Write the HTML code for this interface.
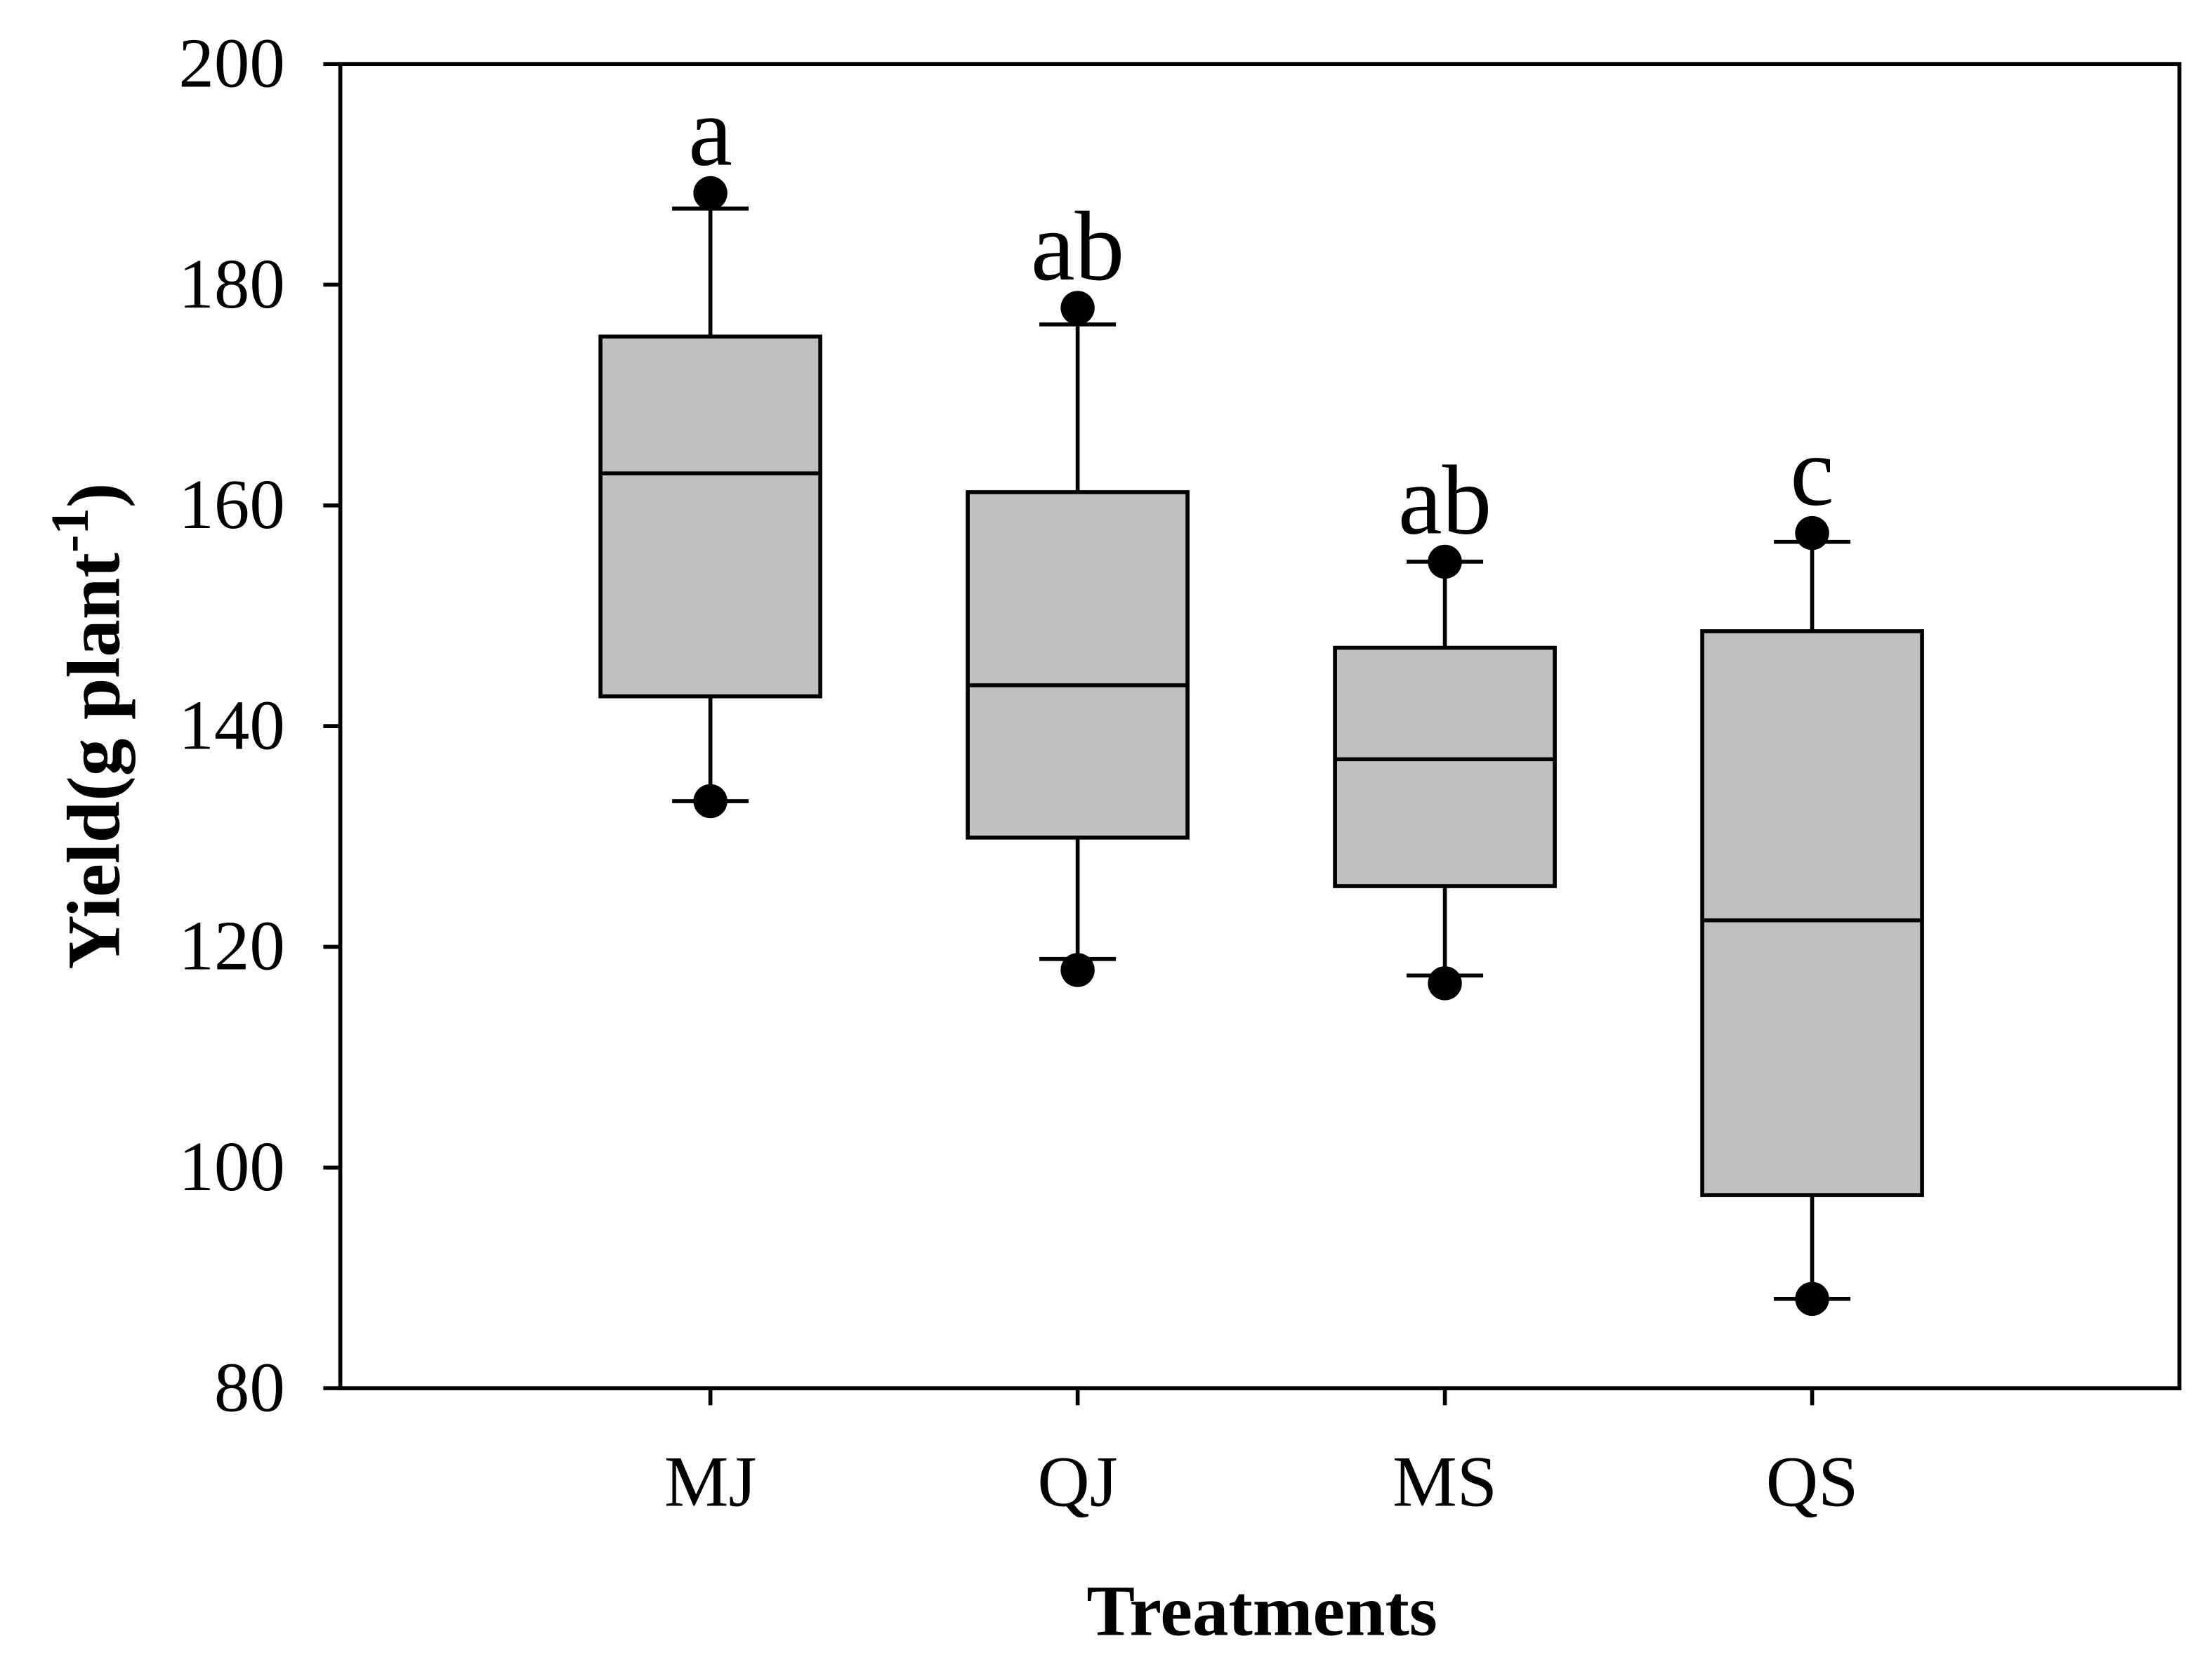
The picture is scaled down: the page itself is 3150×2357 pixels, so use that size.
<!DOCTYPE html>
<html><head><meta charset="utf-8"><style>
html,body{margin:0;padding:0;background:#fff;}
svg{display:block;}
text{font-family:"Liberation Serif","DejaVu Serif",serif;fill:#000;}
</style></head><body>
<svg id="chart" width="3150" height="2357" viewBox="0 0 1560 1167" xmlns="http://www.w3.org/2000/svg">
<rect x="0" y="0" width="1560" height="1167" fill="#fff"/>
<g id="plot"></g>
<text x="84" y="512" font-size="53" font-weight="bold" text-anchor="middle" transform="rotate(-90 84 512)">Yield(g plant<tspan dy="-22" font-size="38">-1</tspan><tspan dy="22">)</tspan></text>
<text x="890" y="1153" font-size="51" font-weight="bold" text-anchor="middle">Treatments</text>
</svg>
<script>
const categories = ["MJ","QJ","MS","QS"];
const q1 = [142.7,129.9,125.5,97.5];
const medians = [162.9,143.7,137.0,122.4];
const q3 = [175.3,161.2,147.1,148.6];
const whiskerLow = [133.2,118.9,117.4,88.1];
const whiskerHigh = [186.9,176.4,154.9,156.7];
const outlierLow = [133.2,117.9,116.7,88.1];
const outlierHigh = [188.3,177.9,154.9,157.5];
const letters = ["a","ab","ab","c"];
const yTicks = [80,100,120,140,160,180,200];

const L=240,R=1537,T=45,B=979,yMin=80,yMax=200;
function y(v){return B-(v-yMin)/(yMax-yMin)*(B-T);}
function x(i){return 501+i*259;}
const NS="http://www.w3.org/2000/svg";
const g=document.getElementById('plot');
function mk(tag,attrs,parent){const e=document.createElementNS(NS,tag);for(const k in attrs)e.setAttribute(k,attrs[k]);(parent||g).appendChild(e);return e;}
const sw=2.8;

yTicks.forEach(t=>{
  const tk=mk('line',{x1:228,x2:L,y1:y(t),y2:y(t),stroke:'#000','stroke-width':sw});
  
  
  const tx=mk('text',{x:201,y:y(t)+16,'font-size':50,'text-anchor':'end'});
  tx.textContent=t;
  
  
});

categories.forEach((c,i)=>{
  const cx=x(i),hw=77.5,cap=27;
  const grp=mk('g',{});
  
  
  mk('line',{x1:cx,x2:cx,y1:y(whiskerHigh[i]),y2:y(q3[i]),stroke:'#000','stroke-width':sw},grp);
  mk('line',{x1:cx,x2:cx,y1:y(q1[i]),y2:y(whiskerLow[i]),stroke:'#000','stroke-width':sw},grp);
  mk('line',{x1:cx-cap,x2:cx+cap,y1:y(whiskerHigh[i]),y2:y(whiskerHigh[i]),stroke:'#000','stroke-width':sw},grp);
  mk('line',{x1:cx-cap,x2:cx+cap,y1:y(whiskerLow[i]),y2:y(whiskerLow[i]),stroke:'#000','stroke-width':sw},grp);
  mk('rect',{x:cx-hw,y:y(q3[i]),width:hw*2,height:y(q1[i])-y(q3[i]),fill:'#c0c0c0',stroke:'#000','stroke-width':sw},grp);
  mk('line',{x1:cx-hw,x2:cx+hw,y1:y(medians[i]),y2:y(medians[i]),stroke:'#000','stroke-width':sw},grp);
  const d1=mk('circle',{cx:cx,cy:y(outlierHigh[i]),r:12,fill:'#000'},grp);
  
  
  const d2=mk('circle',{cx:cx,cy:y(outlierLow[i]),r:12,fill:'#000'},grp);
  
  
  const lt=mk('text',{x:cx,y:y(outlierHigh[i])-20,'font-size':70,'text-anchor':'middle'});
  lt.textContent=letters[i];
  
  
  const xt=mk('line',{x1:cx,x2:cx,y1:B,y2:B+12,stroke:'#000','stroke-width':sw});
  
  
  const xl=mk('text',{x:cx,y:1062,'font-size':51,'text-anchor':'middle'});
  xl.textContent=c;
  
  
});

const frame=mk('rect',{x:L,y:T,width:R-L,height:B-T,fill:'none',stroke:'#000','stroke-width':sw});


</script>
</body></html>
